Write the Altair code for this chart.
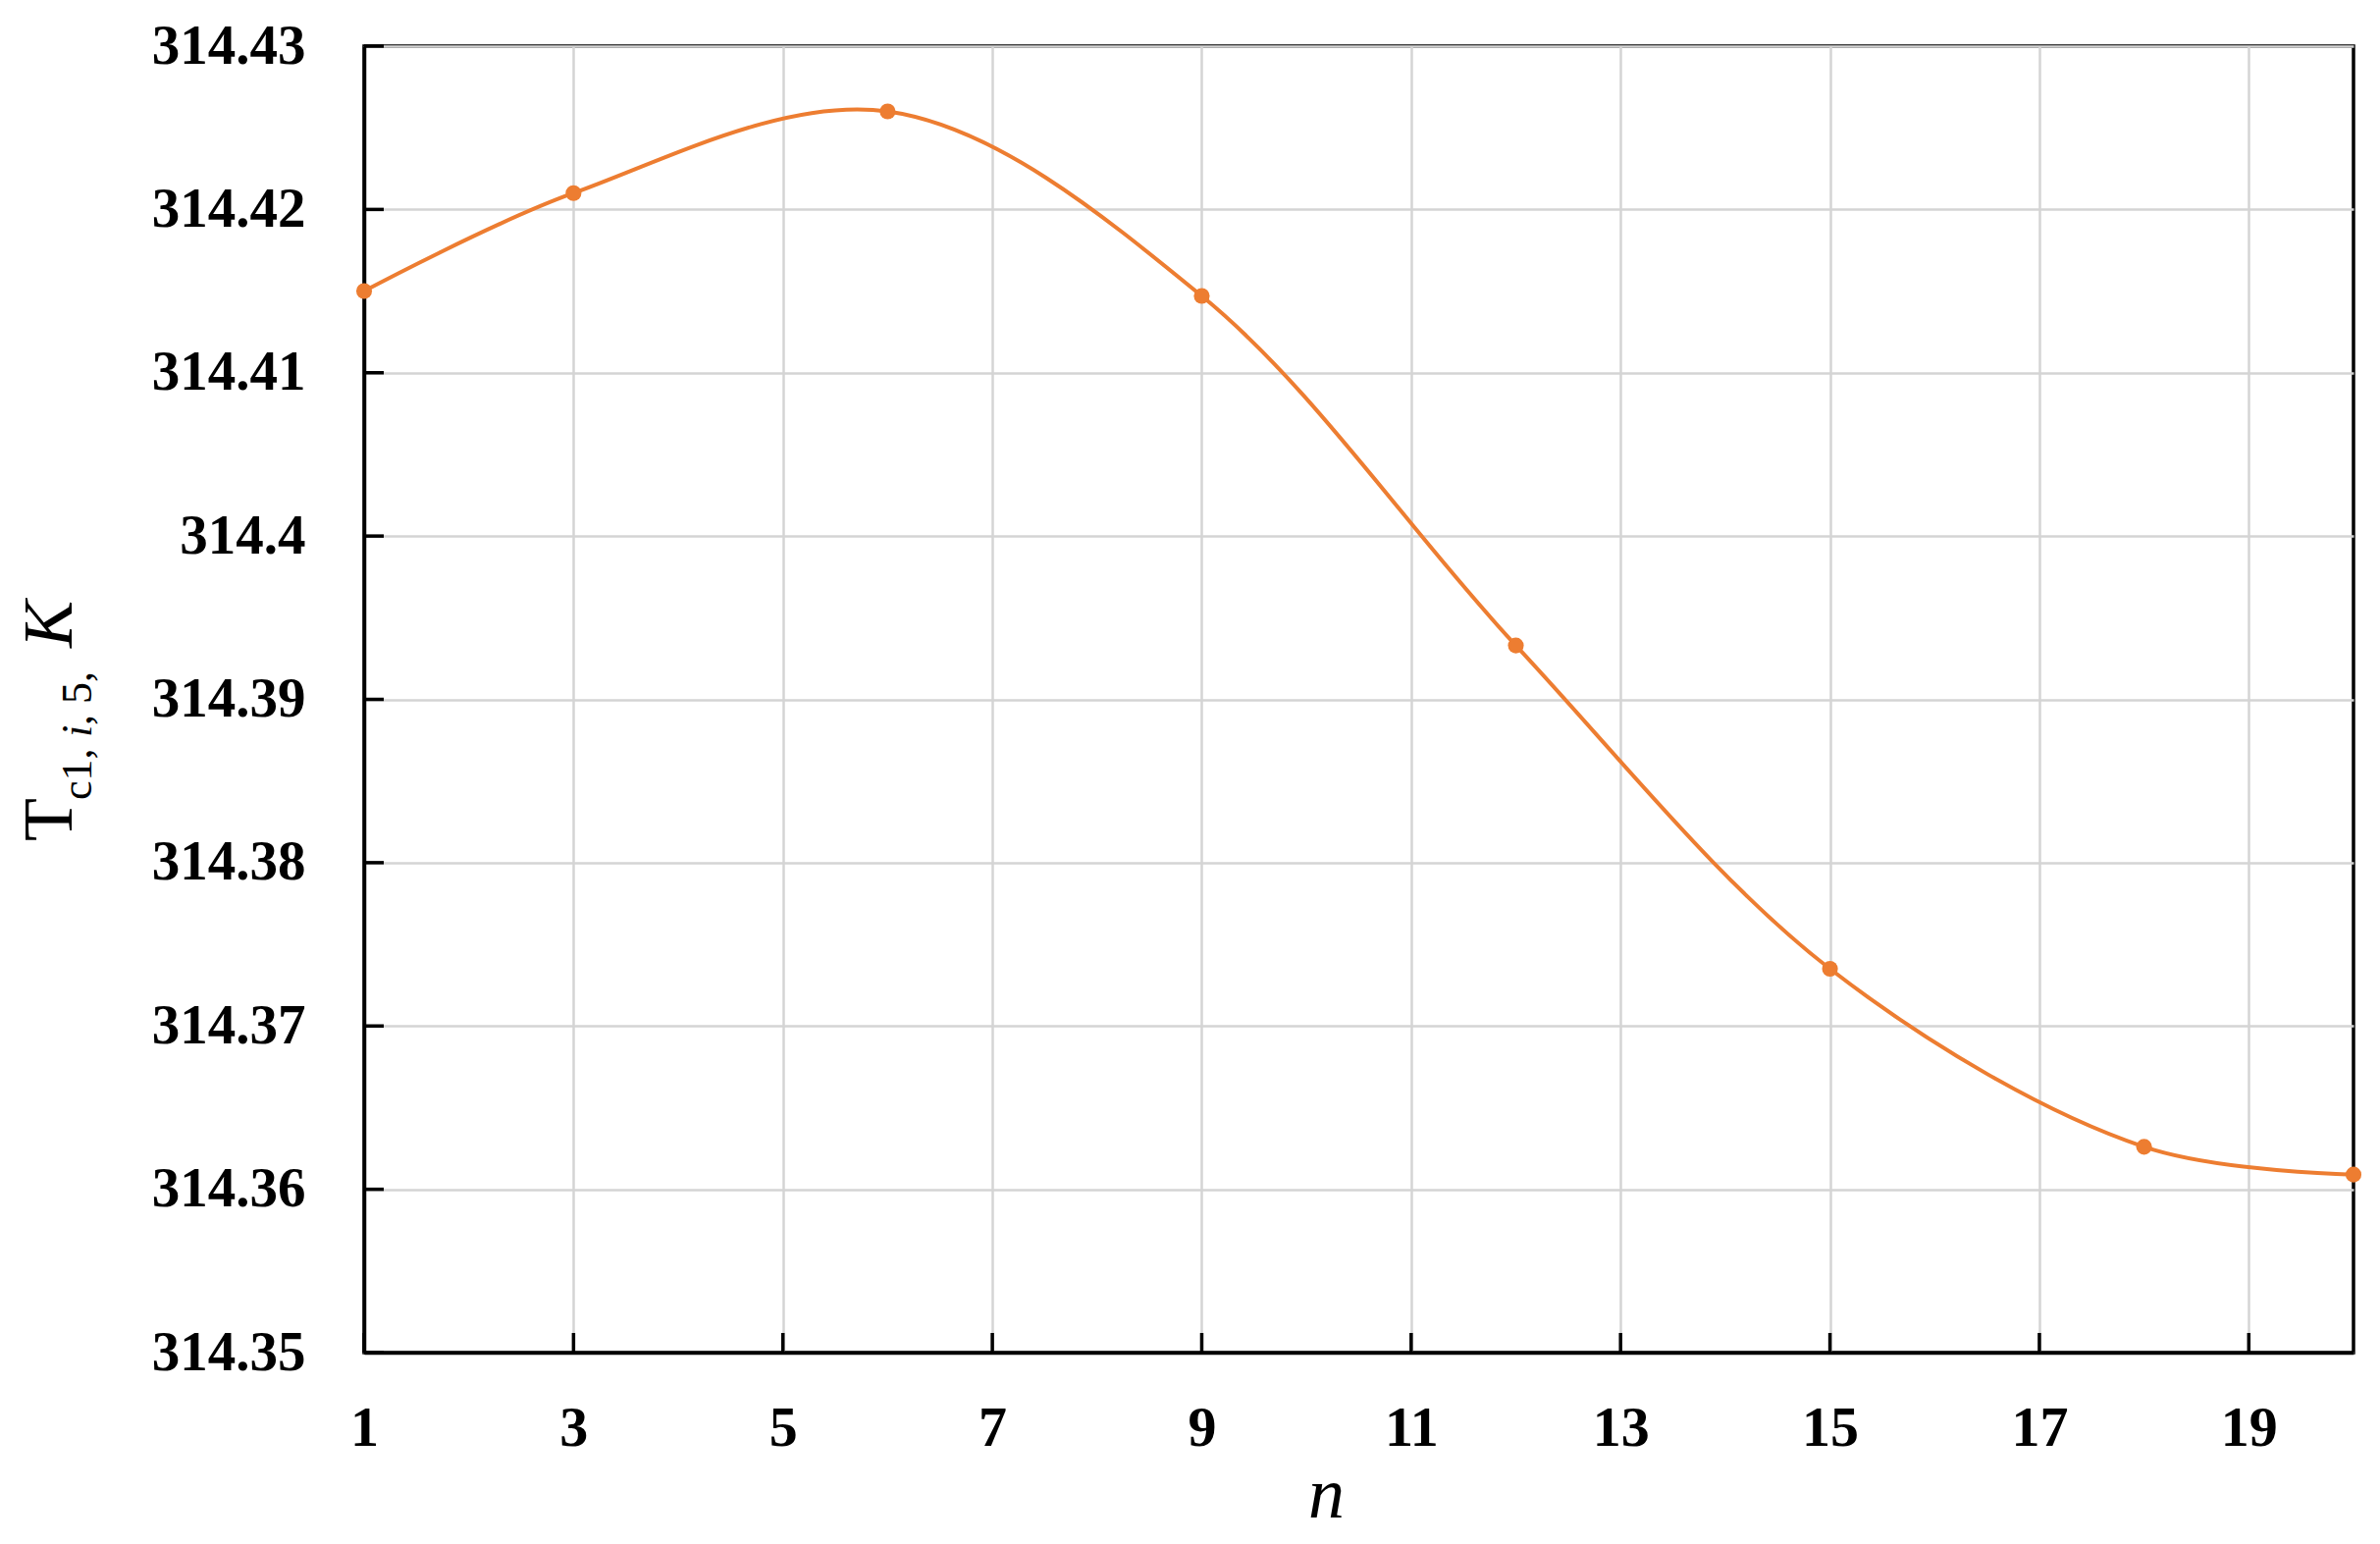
import altair as alt
import pandas as pd

# Data
n_values = [1, 3, 6, 9, 12, 15, 18, 20]
t_values = [314.4150, 314.4210, 314.4260, 314.4147, 314.3933, 314.3735, 314.3626, 314.3609]

x_ticks = [1, 3, 5, 7, 9, 11, 13, 15, 17, 19]
y_ticks = [314.35, 314.36, 314.37, 314.38, 314.39, 314.40, 314.41, 314.42, 314.43]

W, H = 2027, 1331
ORANGE = "#ED7D31"
FONT = "Liberation Serif"

df = pd.DataFrame({"n": n_values, "T": t_values})
df_xt = pd.DataFrame({"n": x_ticks})
df_yt = pd.DataFrame({"T": y_ticks})
one = pd.DataFrame({"k": [0]})

xscale = alt.Scale(domain=[1, 20], nice=False, zero=False)
yscale = alt.Scale(domain=[314.35, 314.43], nice=False, zero=False)

xaxis = alt.Axis(
    values=x_ticks, format="d", ticks=False, tickSize=0, labelFlush=False,
    labelFont=FONT, labelFontWeight="bold", labelFontSize=58, labelColor="black",
    labelPadding=48, domainColor="black", domainWidth=3.5,
    grid=True, gridColor="#d4d4d4", gridWidth=2.5,
    title="n", titleFont=FONT, titleFontStyle="italic", titleFontWeight="normal",
    titleFontSize=74, titleColor="black", titleX=980, titleY=167,
    titleBaseline="alphabetic", titleAlign="center",
)
yaxis = alt.Axis(
    values=y_ticks, format=".2~f", ticks=False, tickSize=0,
    labelFont=FONT, labelFontWeight="bold", labelFontSize=57, labelColor="black",
    labelPadding=60, domainColor="black", domainWidth=3.5,
    grid=True, gridColor="#d4d4d4", gridWidth=2.5, title=None,
)

xenc = alt.X("n:Q", scale=xscale, axis=xaxis)
yenc = alt.Y("T:Q", scale=yscale, axis=yaxis)

line = alt.Chart(df).mark_line(
    interpolate="catmull-rom", color=ORANGE, strokeWidth=4, clip=False
).encode(x=xenc, y=yenc)

pts = alt.Chart(df).mark_circle(size=260, color=ORANGE, opacity=1).encode(x=xenc, y=yenc)

xt_rules = alt.Chart(df_xt).mark_rule(color="black", strokeWidth=3.5).encode(
    x=xenc, y=alt.value(H), y2=alt.value(H - 20)
)
yt_rules = alt.Chart(df_yt).mark_rule(color="black", strokeWidth=3.5).encode(
    y=yenc, x=alt.value(0), x2=alt.value(20)
)

def title_piece(text, x, y, size, style="normal"):
    return alt.Chart(one).mark_text(
        text=text, angle=270, align="left", baseline="alphabetic",
        font=FONT, fontSize=size, fontStyle=style, color="black",
    ).encode(x=alt.value(x), y=alt.value(y))

t_main = title_piece("T", -298, 810, 72)
t_sub1 = title_piece("c1, ", -278, 768, 44)
t_sub2 = title_piece("i", -278, 704, 44, "italic")
t_sub3 = title_piece(", 5,", -278, 692, 44)
t_k = title_piece("K", -298, 613, 72, "italic")

chart = alt.layer(
    line, pts, xt_rules, yt_rules, t_main, t_sub1, t_sub2, t_sub3, t_k
).properties(
    width=W, height=H,
    autosize=alt.AutoSizeParams(type="none"),
    padding={"left": 363, "top": 39, "right": 19, "bottom": 192},
    background="white",
).configure_view(stroke="black", strokeWidth=3.5)

chart.save("out.html", embed_options={"renderer": "svg", "actions": False})
